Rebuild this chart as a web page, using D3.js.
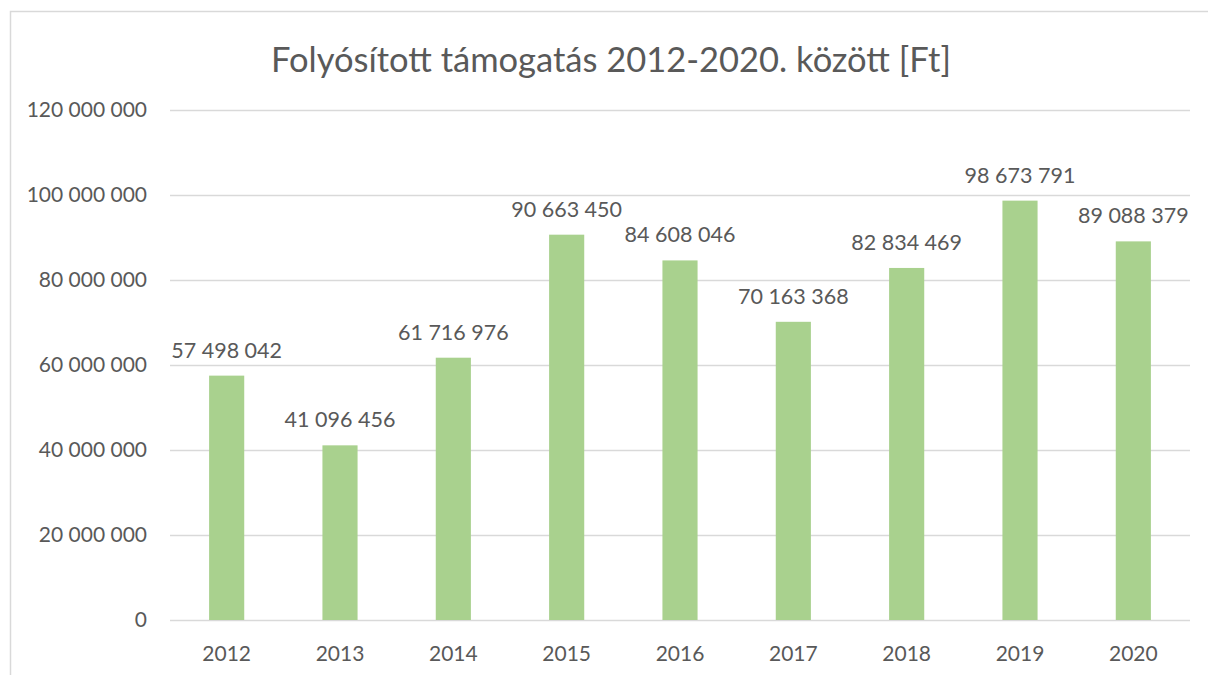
<!DOCTYPE html>
<html lang="hu">
<head>
<meta charset="UTF-8">
<title>Folyósított támogatás</title>
<script src="https://d3js.org/d3.v7.min.js"></script>
<style>
  body { margin: 0; background: #fff; }
  text { font-family: Lato, "Open Sans", sans-serif; fill: #595959; }
</style>
</head>
<body>
<div id="chart"></div>
<script>
const years = ["2012", "2013", "2014", "2015", "2016", "2017", "2018", "2019", "2020"];
const amounts = [57498042, 41096456, 61716976, 90663450, 84608046, 70163368, 82834469, 98673791, 89088379];
const yTicks = [0, 20000000, 40000000, 60000000, 80000000, 100000000, 120000000];
const title = "Folyósított támogatás 2012-2020. között [Ft]";

const width = 1208, height = 675;
const margin = { top: 110, right: 18, bottom: 55, left: 170 };

const svg = d3.select("#chart").append("svg")
    .attr("width", width)
    .attr("height", height);

// chart frame (left + top only visible)
svg.append("path")
    .attr("d", `M10.5,${height} V11.5 H${width}`)
    .attr("fill", "none")
    .attr("stroke", "#d9d9d9")
    .attr("stroke-width", 1.5);

const x = d3.scaleBand()
    .domain(years)
    .range([margin.left, width - margin.right])
    .padding(0);

const y = d3.scaleLinear()
    .domain([0, 120000000])
    .range([height - margin.bottom, margin.top]);

// thousands separated with spaces
const fmt = v => d3.format(",")(v).replace(/,/g, " ");

// gridlines
svg.append("g")
    .selectAll("line")
    .data(yTicks)
    .join("line")
    .attr("x1", margin.left)
    .attr("x2", width - margin.right)
    .attr("y1", d => Math.round(y(d)) + 0.5)
    .attr("y2", d => Math.round(y(d)) + 0.5)
    .attr("stroke", "#d9d9d9")
    .attr("stroke-width", 1.5);

// y labels
svg.append("g")
    .selectAll("text")
    .data(yTicks)
    .join("text")
    .attr("x", 147)
    .attr("y", d => y(d))
    .attr("dy", "0.35em")
    .attr("text-anchor", "end")
    .style("font-size", "21px")
    .text(d => fmt(d));

const barW = x.bandwidth() * 0.31;

svg.append("g")
    .selectAll("rect")
    .data(amounts)
    .join("rect")
    .attr("x", (d, i) => x(years[i]) + (x.bandwidth() - barW) / 2)
    .attr("y", d => y(d))
    .attr("width", barW)
    .attr("height", d => y(0) - y(d))
    .attr("fill", "#a9d18e");

// data labels
svg.append("g")
    .selectAll("text")
    .data(amounts)
    .join("text")
    .attr("x", (d, i) => x(years[i]) + x.bandwidth() / 2)
    .attr("y", d => y(d) - 18)
    .attr("text-anchor", "middle")
    .style("font-size", "21.5px")
    .text(d => fmt(d));

// x labels
svg.append("g")
    .selectAll("text")
    .data(years)
    .join("text")
    .attr("x", d => x(d) + x.bandwidth() / 2)
    .attr("y", 661)
    .attr("text-anchor", "middle")
    .style("font-size", "21px")
    .text(d => d);

svg.append("text")
    .attr("x", 611)
    .attr("y", 72)
    .attr("text-anchor", "middle")
    .style("font-size", "34.5px")
    .text(title);
</script>
</body>
</html>
